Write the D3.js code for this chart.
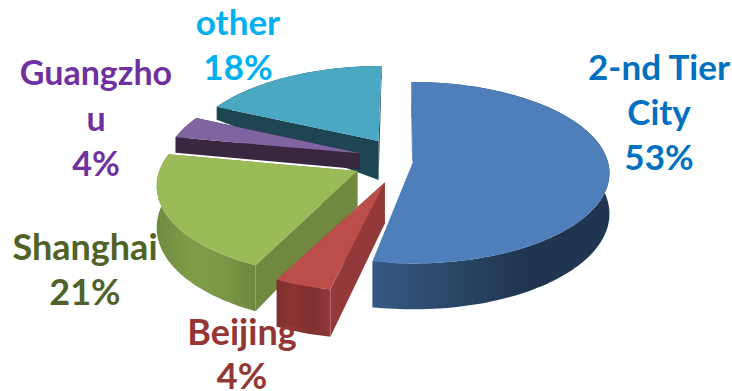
<!DOCTYPE html>
<html>
<head>
<meta charset="utf-8">
<script src="https://cdn.jsdelivr.net/npm/d3@7"></script>
<style>
  html, body { margin: 0; padding: 0; background: #fff; }
  svg { display: block; }
  text { font-family: Lato, "Open Sans", sans-serif; font-weight: 700; text-anchor: middle; }
</style>
</head>
<body>
<svg id="chart" width="732" height="391"></svg>
<script>
// Market share by city group
const categories = ["2-nd Tier City", "Beijing", "Shanghai", "Guangzhou", "other"];
const shares = [53, 4, 21, 4, 18];
const labelLines = [["2-nd Tier", "City"], ["Beijing"], ["Shanghai"], ["Guangzho", "u"], ["other"]];

// Per-slice look of the exploded 3D pie
const explode = [0.04, 0.28, 0.27, 0.245, 0.26];
const explodeTurn = [13, 11, 0, 0, 0];
const apexNudge = [0, 0.035, 0, 0, 0];
const rimDepth = [40, 40, 40, 16, 14];
const apexDepth = [40, 40, 35, 16, 40];
const topColors = ["#4f7fba", "#bb4e4b", "#9bbb59", "#8064a2", "#4aa8c3"];
const cutColors = ["#1f3550", "#93393a", "#70893f", "#38273f", "#1e4552"];
const rimStops = [
  ["#355a85", "#2a4768", "#1f3550", "#1f3550"],
  ["#7f302e", "#8a3432", "#7e2f2e", "#93393a"],
  ["#6f8a3e", "#7f9c49", "#7c9847", "#6e873d"],
  ["#38273f", "#38273f", "#38273f", "#38273f"],
  ["#1e4552", "#1e4552", "#1e4552", "#1e4552"]
];
const textColors = ["#0070c0", "#943634", "#4f6228", "#7030a0", "#00b0f0"];
const labelAnchors = [[659, 80], [242, 345], [85, 260], [96, 85], [238, 35]];
const lineStep = [45, 44, 45, 45.5, 45];
const labelSizes = [35, 36, 36, 34, 35];

// Ground-plane projection: u to the right, v towards the back, with perspective
const center = { x: 405, y: 160 };
const radiusX = 195, radiusY = 89, perspective = 0.127;
const project = (u, v) => {
  const w = 1 + perspective * v;
  return { x: center.x + radiusX * u / w, y: center.y - radiusY * v / w, w };
};

const svg = d3.select("#chart");
const defs = svg.append("defs");
const path = d3.line().x(d => d[0]).y(d => d[1]);

const arcs = d3.pie().sort(null).value(d => d)(shares);

const slices = arcs.map((a, i) => {
  const mid = (a.startAngle + a.endAngle) / 2 + explodeTurn[i] * Math.PI / 180;
  const ou = explode[i] * Math.sin(mid), ov = explode[i] * Math.cos(mid);
  const steps = Math.max(8, Math.round((a.endAngle - a.startAngle) * 40));
  const angles = d3.range(steps + 1).map(k => a.startAngle + (a.endAngle - a.startAngle) * k / steps);
  const rim = angles.map(t => project(ou + Math.sin(t), ov + Math.cos(t)));
  const apex = project(ou + apexNudge[i], ov);
  return { i, rim, apex };
});

const drop = (p, depth) => [p.x, p.y + depth / p.w];
const flat = p => [p.x, p.y];

// Paint from the back of the scene to the front
const paintOrder = [4, 3, 2, 1, 0];
paintOrder.forEach(i => {
  const s = slices[i];
  const g = svg.append("g").attr("class", "slice").attr("data-name", categories[i]);
  const first = s.rim[0], last = s.rim[s.rim.length - 1];

  const gradId = "rim" + i;
  const xs = d3.extent(s.rim, p => p.x);
  const grad = defs.append("linearGradient").attr("id", gradId)
    .attr("gradientUnits", "userSpaceOnUse")
    .attr("x1", xs[0]).attr("x2", xs[1]).attr("y1", 0).attr("y2", 0);
  rimStops[i].forEach((c, k) => {
    grad.append("stop").attr("offset", k / (rimStops[i].length - 1)).attr("stop-color", c);
  });

  [first, last].forEach(corner => {
    g.append("path")
      .attr("d", path([flat(s.apex), flat(corner), drop(corner, rimDepth[i]), drop(s.apex, apexDepth[i])]) + "Z")
      .attr("fill", cutColors[i]);
  });

  const wall = s.rim.map(flat).concat(s.rim.slice().reverse().map(p => drop(p, rimDepth[i])));
  g.append("path").attr("d", path(wall) + "Z").attr("fill", `url(#${gradId})`);

  const top = [flat(s.apex)].concat(s.rim.map(flat));
  g.append("path").attr("d", path(top) + "Z").attr("fill", topColors[i]);

  if (i === 0) {
    // Pale halo that separates the large slice from its neighbour
    g.append("path")
      .attr("d", path([flat(s.apex), flat(last), drop(last, rimDepth[i])]))
      .attr("fill", "none").attr("stroke", "#fff").attr("stroke-width", 1.5);
  }
});

// Category names and percentages, drawn over the pie
categories.forEach((c, i) => {
  const lines = labelLines[i].concat(shares[i] + "%");
  const text = svg.append("text").attr("font-size", labelSizes[i]).attr("fill", textColors[i]);
  lines.forEach((line, k) => {
    text.append("tspan")
      .attr("x", labelAnchors[i][0])
      .attr("y", labelAnchors[i][1] + k * lineStep[i])
      .text(line);
  });
});
</script>
</body>
</html>
